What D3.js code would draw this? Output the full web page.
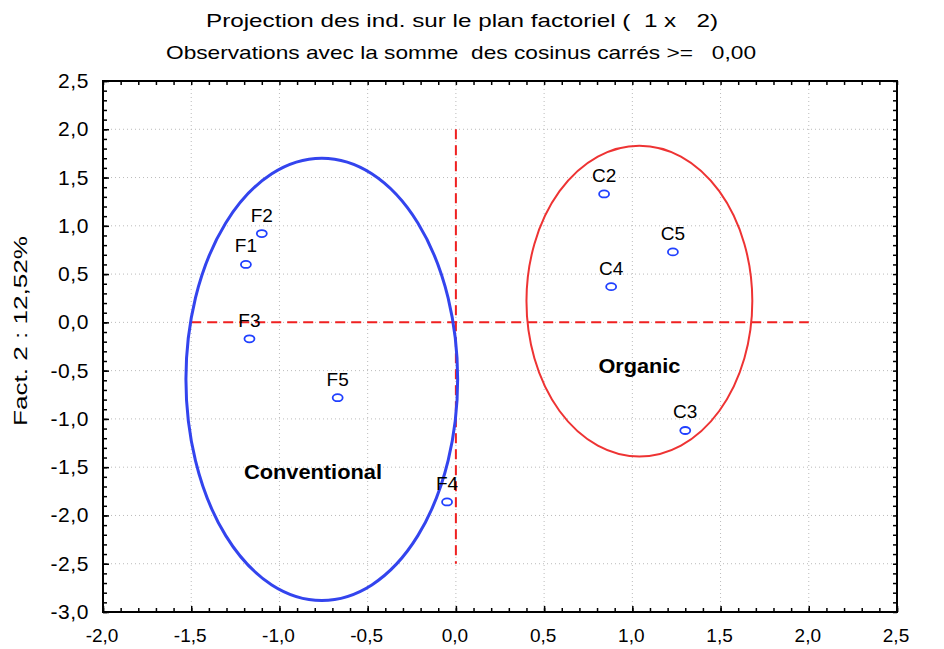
<!DOCTYPE html>
<meta charset="utf-8">
<script src="https://d3js.org/d3.v7.min.js"></script>
<style>
  body { margin: 0; background: #fff; }
  text { font-family: "Liberation Sans", Arial, sans-serif; white-space: pre; }
</style>
<div id="my_dataviz"></div>
<script>
// individuals on the factorial plane
var names = ["F1", "F2", "F3", "F5", "F4", "C2", "C5", "C4", "C3"];
var fact1 = [-1.19, -1.10, -1.17, -0.67, -0.05, 0.84, 1.23, 0.88, 1.30];
var fact2 = [0.60, 0.92, -0.17, -0.78, -1.86, 1.33, 0.73, 0.37, -1.12];

// group ellipses: centre x, centre y, radius x, radius y (data units)
var groups = ["Conventional", "Organic"];
var ellCx = [-0.76, 1.04];
var ellCy = [-0.59, 0.22];
var ellRx = [0.77, 0.64];
var ellRy = [2.29, 1.61];
var groupLabelX = [-0.81, 1.04];
var groupLabelY = [-1.62, -0.52];

var xTicks = [-2.0, -1.5, -1.0, -0.5, 0.0, 0.5, 1.0, 1.5, 2.0, 2.5];
var yTicks = [2.5, 2.0, 1.5, 1.0, 0.5, 0.0, -0.5, -1.0, -1.5, -2.0, -2.5, -3.0];

var margin = {top: 81, right: 47, bottom: 37, left: 103},
    width = 944 - margin.left - margin.right,
    height = 649 - margin.top - margin.bottom;

var svg = d3.select("#my_dataviz")
  .append("svg")
    .attr("width", 944)
    .attr("height", 649)
  .append("g")
    .attr("transform", "translate(" + margin.left + "," + margin.top + ")");

var x = d3.scaleLinear().domain([-2, 2.5]).range([0, width]);
var y = d3.scaleLinear().domain([-3, 2.5]).range([height, 0]);
var fmt = function(d) { return d3.format(".1f")(d).replace(".", ",").replace("−", "-"); };

// grid
svg.append("g").selectAll("line").data(xTicks.slice(1, -1)).enter().append("line")
  .attr("x1", d => x(d)).attr("x2", d => x(d)).attr("y1", 0).attr("y2", height)
  .attr("stroke", "#bbb").attr("stroke-dasharray", "1,3");
svg.append("g").selectAll("line").data(yTicks.slice(1, -1)).enter().append("line")
  .attr("y1", d => y(d)).attr("y2", d => y(d)).attr("x1", 0).attr("x2", width)
  .attr("stroke", "#bbb").attr("stroke-dasharray", "1,3");

// axes with minor ticks on all sides
var minorX = d3.range(-20, 26).map(d => d / 10);
var minorY = d3.range(-30, 26).map(d => d / 10);
function tickAxis(axis, scale, vals, size) {
  return axis(scale).tickValues(vals).tickSize(size).tickFormat("");
}
svg.append("g").attr("transform", "translate(0," + height + ")")
  .call(tickAxis(d3.axisTop, x, minorX, 4));
svg.append("g").call(tickAxis(d3.axisBottom, x, minorX, 4));
svg.append("g").call(tickAxis(d3.axisRight, y, minorY, 4));
svg.append("g").attr("transform", "translate(" + width + ",0)")
  .call(tickAxis(d3.axisLeft, y, minorY, 4));
svg.append("g").attr("transform", "translate(0," + height + ")")
  .call(tickAxis(d3.axisTop, x, xTicks, 6));
svg.append("g").call(tickAxis(d3.axisRight, y, yTicks, 6));
svg.selectAll(".domain").remove();
svg.selectAll(".tick line").attr("stroke", "#000").attr("stroke-width", 1.5);

svg.append("rect").attr("width", width).attr("height", height)
  .attr("fill", "none").attr("stroke", "#000").attr("stroke-width", 2);

// tick labels
svg.append("g").selectAll("text").data(xTicks).enter().append("text")
  .attr("x", d => x(d) - 1).attr("y", height + 30)
  .attr("text-anchor", "middle").style("font-size", "19px")
  .text(fmt);
svg.append("g").selectAll("text").data(yTicks).enter().append("text")
  .attr("x", -14).attr("y", d => y(d) + 7)
  .attr("text-anchor", "end").style("font-size", "21px")
  .style("letter-spacing", "0.6px")
  .text(fmt);

// axis label
svg.append("text")
  .attr("transform", "rotate(-90)")
  .attr("x", -(331 - margin.top))
  .attr("y", -margin.left + 27)
  .attr("text-anchor", "middle")
  .style("font-size", "19px")
  .attr("textLength", 190).attr("lengthAdjust", "spacingAndGlyphs")
  .text("Fact. 2 : 12,52%");

// titles
svg.append("text")
  .attr("x", 462 - margin.left).attr("y", 27 - margin.top)
  .attr("text-anchor", "middle").style("font-size", "19px")
  .attr("textLength", 512).attr("lengthAdjust", "spacingAndGlyphs")
  .text("Projection des ind. sur le plan factoriel (  1 x   2)");
svg.append("text")
  .attr("x", 461 - margin.left).attr("y", 59 - margin.top)
  .attr("text-anchor", "middle").style("font-size", "19px")
  .attr("textLength", 590).attr("lengthAdjust", "spacingAndGlyphs")
  .text("Observations avec la somme  des cosinus carrés >=   0,00");

// red dashed origin lines
svg.append("line")
  .attr("x1", x(-1.5)).attr("x2", x(2.0)).attr("y1", y(0)).attr("y2", y(0))
  .attr("stroke", "#f02020").attr("stroke-width", 2).attr("stroke-dasharray", "10,6");
svg.append("line")
  .attr("x1", x(0)).attr("x2", x(0)).attr("y1", y(2.0)).attr("y2", y(-2.5))
  .attr("stroke", "#f02020").attr("stroke-width", 2).attr("stroke-dasharray", "10,6");

// ellipses
var ellColor = ["#3344ee", "#ee3333"];
var ellWidth = [3, 2];
svg.append("g").selectAll("ellipse").data(groups).enter().append("ellipse")
  .attr("cx", (d, i) => x(ellCx[i]))
  .attr("cy", (d, i) => y(ellCy[i]))
  .attr("rx", (d, i) => x(ellRx[i]) - x(0))
  .attr("ry", (d, i) => y(0) - y(ellRy[i]))
  .attr("fill", "none")
  .attr("stroke", (d, i) => ellColor[i])
  .attr("stroke-width", (d, i) => ellWidth[i]);

svg.append("g").selectAll("text").data(groups).enter().append("text")
  .attr("x", (d, i) => x(groupLabelX[i]))
  .attr("y", (d, i) => y(groupLabelY[i]))
  .attr("text-anchor", "middle")
  .style("font-size", "20px").style("font-weight", "bold")
  .attr("textLength", (d, i) => [138, 82][i])
  .attr("lengthAdjust", "spacingAndGlyphs")
  .text(d => d);

// points
var pts = names.map((n, i) => ({name: n, x: fact1[i], y: fact2[i]}));
svg.append("g").selectAll("ellipse").data(pts).enter().append("ellipse")
  .attr("cx", d => x(d.x)).attr("cy", d => y(d.y))
  .attr("rx", 5).attr("ry", 3.5)
  .attr("fill", "none").attr("stroke", "#2040ff").attr("stroke-width", 1.8);
svg.append("g").selectAll("text").data(pts).enter().append("text")
  .attr("x", d => x(d.x)).attr("y", d => y(d.y) - 12)
  .attr("text-anchor", "middle").style("font-size", "19px")
  .text(d => d.name);
</script>
